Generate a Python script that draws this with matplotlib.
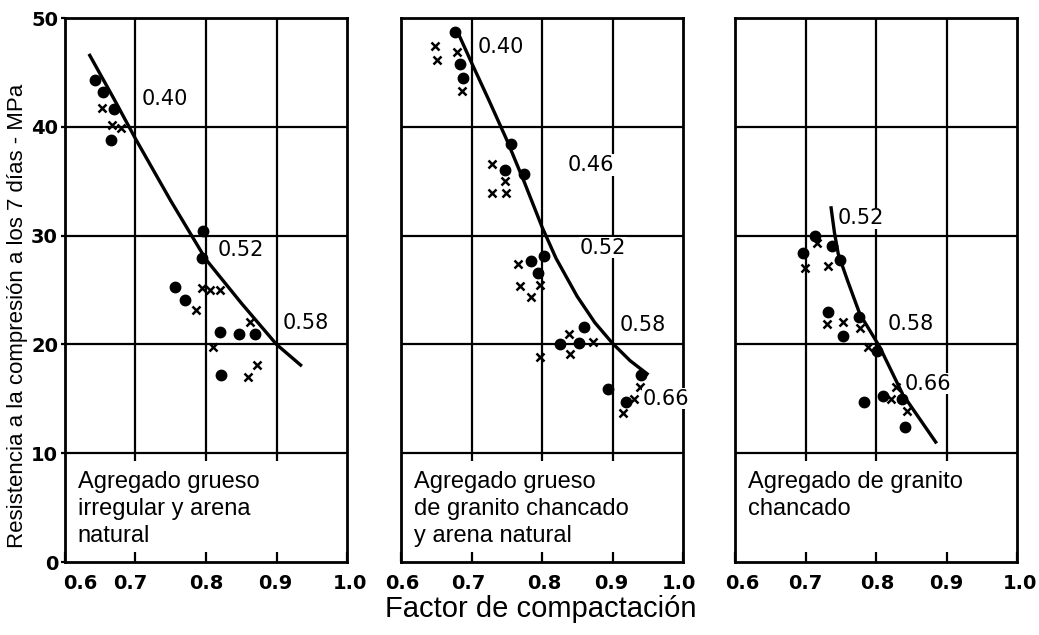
import matplotlib
matplotlib.use("Agg")
import matplotlib.pyplot as plt
import numpy as np

# ---------------- data ----------------
x_ticks = [0.6, 0.7, 0.8, 0.9, 1.0]
x_ticklabels = ["0.6", "0.7", "0.8", "0.9", "1.0"]
y_ticks = [0, 10, 20, 30, 40, 50]
y_ticklabels = ["0", "10", "20", "30", "40", "50"]

titles = ["Agregado grueso\nirregular y arena\nnatural",
          "Agregado grueso\nde granito chancado\ny arena natural",
          "Agregado de granito\nchancado"]

# Panel 1
p1_dots_x = [0.643, 0.654, 0.670, 0.665, 0.796, 0.794, 0.756, 0.770, 0.820, 0.847, 0.869, 0.821]
p1_dots_y = [44.3, 43.2, 41.6, 38.8, 30.4, 27.9, 25.3, 24.1, 21.1, 21.0, 21.0, 17.2]
p1_cross_x = [0.652, 0.666, 0.679, 0.786, 0.794, 0.806, 0.820, 0.863, 0.810, 0.873, 0.859]
p1_cross_y = [41.7, 40.2, 39.9, 23.2, 25.2, 25.0, 25.0, 22.1, 19.8, 18.1, 17.0]
p1_curve_x = [0.634, 0.67, 0.70, 0.75, 0.80, 0.85, 0.90, 0.936]
p1_curve_y = [46.7, 42.5, 38.9, 33.2, 27.8, 23.8, 20.0, 18.0]
p1_labels = ["0.40", "0.52", "0.58"]
p1_label_x = [0.709, 0.817, 0.909]
p1_label_y = [42.6, 28.7, 22.0]

# Panel 2
p2_dots_x = [0.677, 0.683, 0.688, 0.756, 0.748, 0.775, 0.784, 0.803, 0.794,
             0.860, 0.825, 0.853, 0.941, 0.894, 0.919]
p2_dots_y = [48.7, 45.8, 44.5, 38.4, 36.0, 35.7, 27.7, 28.1, 26.6,
             21.6, 20.0, 20.1, 17.2, 15.9, 14.7]
p2_cross_x = [0.648, 0.651, 0.679, 0.686, 0.729, 0.748, 0.729, 0.749, 0.766,
              0.769, 0.797, 0.785, 0.839, 0.872, 0.840, 0.797, 0.939, 0.931, 0.915]
p2_cross_y = [47.4, 46.1, 46.9, 43.3, 36.6, 35.0, 33.9, 33.9, 27.4,
              25.4, 25.5, 24.4, 21.0, 20.2, 19.1, 18.8, 16.1, 15.0, 13.7]
p2_curve_x = [0.679, 0.70, 0.725, 0.75, 0.775, 0.80, 0.82, 0.85, 0.875, 0.90, 0.925, 0.951]
p2_curve_y = [48.9, 45.9, 42.4, 38.8, 34.9, 30.8, 27.9, 24.4, 22.0, 20.1, 18.5, 17.2]
p2_labels = ["0.40", "0.46", "0.52", "0.58", "0.66"]
p2_label_x = [0.709, 0.837, 0.854, 0.910, 0.943]
p2_label_y = [47.3, 36.5, 28.9, 21.8, 15.0]

# Panel 3
p3_dots_x = [0.714, 0.697, 0.738, 0.749, 0.732, 0.753, 0.776, 0.802, 0.810,
             0.837, 0.783, 0.841]
p3_dots_y = [30.0, 28.4, 29.0, 27.8, 23.0, 20.8, 22.5, 19.4, 15.3,
             15.0, 14.7, 12.4]
p3_cross_x = [0.716, 0.699, 0.732, 0.731, 0.753, 0.778, 0.789, 0.828, 0.821, 0.844]
p3_cross_y = [29.3, 27.0, 27.2, 21.9, 22.1, 21.5, 19.8, 16.1, 15.0, 13.9]
p3_curve_x = [0.736, 0.741, 0.7465, 0.76, 0.777, 0.805, 0.838, 0.886]
p3_curve_y = [32.7, 30.3, 28.3, 25.8, 22.8, 19.8, 15.4, 10.9]
p3_labels = ["0.52", "0.58", "0.66"]
p3_label_x = [0.745, 0.817, 0.841]
p3_label_y = [31.6, 21.9, 16.4]

panels = [
    (p1_dots_x, p1_dots_y, p1_cross_x, p1_cross_y, p1_curve_x, p1_curve_y, p1_labels, p1_label_x, p1_label_y),
    (p2_dots_x, p2_dots_y, p2_cross_x, p2_cross_y, p2_curve_x, p2_curve_y, p2_labels, p2_label_x, p2_label_y),
    (p3_dots_x, p3_dots_y, p3_cross_x, p3_cross_y, p3_curve_x, p3_curve_y, p3_labels, p3_label_x, p3_label_y),
]

# small horizontal nudges (points) of the tick labels, as placed in the original scan
tick_nudges = [
    [11, -4, 0, -1, 2],
    [1, -2, 2, -1, -3],
    [5, 0, 1, 0, 2],
]

# ---------------- figure ----------------
W, H = 1039, 635
fig = plt.figure(figsize=(W / 100, H / 100), dpi=100)
lefts_px = [65, 401, 735]
width_px = 282
top_px, bottom_px = 18, 562

sans = ["Liberation Sans", "DejaVu Sans"]
numfont = ["DejaVu Sans"]

for i, (left, pdata) in enumerate(zip(lefts_px, panels)):
    dx, dy, cx, cy, kx, ky, labs, lx, ly = pdata
    ax = fig.add_axes([left / W, (H - bottom_px) / H, width_px / W, (bottom_px - top_px) / H])
    ax.set_xlim(0.6, 1.0)
    ax.set_ylim(0, 50)
    for s in ax.spines.values():
        s.set_linewidth(2.0)
        s.set_color("black")
    # grid
    for gx in x_ticks[1:-1]:
        ax.plot([gx, gx], [9.3, 50], color="black", lw=1.6, zorder=1, solid_capstyle="butt")
    for gy in y_ticks[1:-1]:
        ax.axhline(gy, color="black", lw=1.6, zorder=1)
    ax.set_xticks(x_ticks)
    ax.set_xticklabels([])
    ax.tick_params(axis="x", direction="in", length=7, width=1.6)
    for tx, tl, nud in zip(x_ticks, x_ticklabels, tick_nudges[i]):
        ax.annotate(tl, xy=(tx, 0), xycoords=("data", "axes fraction"),
                    xytext=(nud, -15.5), textcoords="offset points",
                    ha="center", va="center", fontsize=14, fontweight="bold",
                    family=numfont, annotation_clip=False)
    if i == 0:
        ax.set_yticks(y_ticks)
        ax.set_yticklabels(y_ticklabels, fontsize=14, family=numfont, fontweight="bold")
        ax.tick_params(axis="y", direction="out", length=3, width=1.6, pad=2)
    else:
        ax.set_yticks([])
    # data
    ax.plot(kx, ky, color="black", lw=2.4, zorder=3, solid_capstyle="butt")
    ax.plot(dx, dy, "o", color="black", ms=7.5, zorder=4)
    ax.plot(cx, cy, "x", color="black", ms=5.5, mew=1.8, zorder=4)
    for t, tx, ty in zip(labs, lx, ly):
        ax.text(tx, ty, t, fontsize=15, family=numfont, va="center", ha="left", zorder=5,
                bbox=dict(facecolor="white", edgecolor="none", pad=0.5))
    ax.text(0.618, 8.4, titles[i], fontsize=17, family=sans, va="top", ha="left",
            linespacing=1.32)

fig.text(18 / W, 0.5 + 2 / H, "Resistencia a la compresión a los 7 días - MPa", rotation=90,
         fontsize=16, family=sans, va="center", ha="center")
fig.text(541 / W, (H - 609) / H, "Factor de compactación", fontsize=21, family=sans,
         va="center", ha="center")

fig.savefig("out.png", dpi=100, facecolor="white")
